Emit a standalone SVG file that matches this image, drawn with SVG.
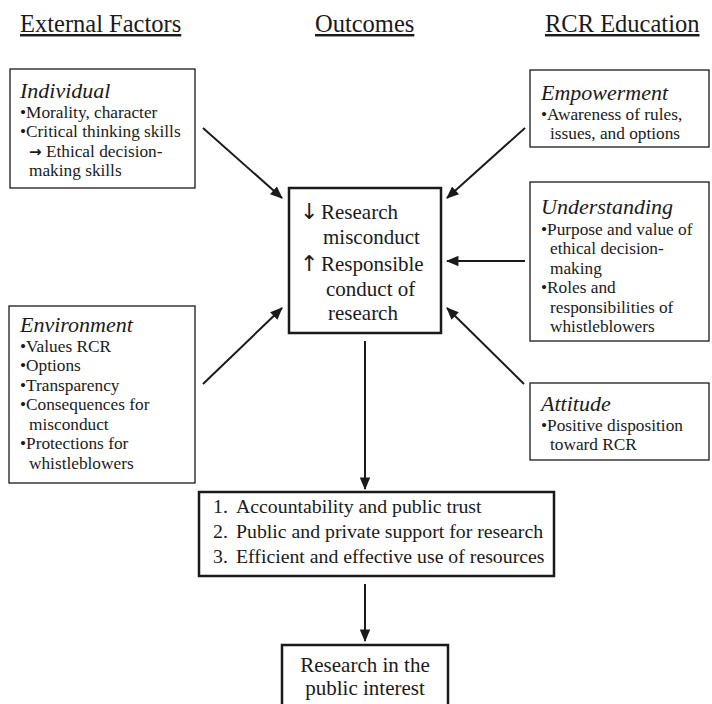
<svg xmlns="http://www.w3.org/2000/svg" width="712" height="704" viewBox="0 0 712 704">
<style>
text{font-family:"Liberation Serif","Times New Roman",serif;fill:#1a1a1a}
.hdr{font-size:24.5px;text-decoration:underline}
.h{font-size:22px;font-style:italic}
.b{font-size:17.3px}
.c{font-size:21px}
.o{font-size:19.8px}
.ar{font-family:"DejaVu Sans",sans-serif;font-size:22px}
.box{fill:#fff;stroke:#1a1a1a;stroke-width:1.3}
.tbox{fill:#fff;stroke:#1a1a1a;stroke-width:2.5}
.con line{stroke:#1a1a1a;stroke-width:2;marker-end:url(#ah)}
</style>
<defs>
<marker id="ah" viewBox="0 0 12 10" refX="11" refY="5" markerWidth="6.5" markerHeight="5.2" orient="auto" markerUnits="strokeWidth">
<path d="M0,0 L12,5 L0,10 z" fill="#1a1a1a"/>
</marker>
</defs>
<rect width="712" height="704" fill="#fff"/>
<g id="headers">
<text class="hdr" x="20" y="32">External Factors</text>
<text class="hdr" x="315" y="32">Outcomes</text>
<text class="hdr" x="545" y="32">RCR Education</text>
</g>
<g id="individual">
<rect class="box" x="10" y="69" width="185" height="119"/>
<text class="h" x="20" y="98">Individual</text>
<text class="b" x="20" y="118">•Morality, character</text>
<text class="b" x="20" y="137">•Critical thinking skills</text>
<text class="b" x="29" y="157"><tspan font-family="DejaVu Sans, sans-serif" font-size="15" font-weight="bold">→</tspan> Ethical decision-</text>
<text class="b" x="29" y="176">making skills</text>
</g>
<g id="environment">
<rect class="box" x="9" y="306" width="186" height="177"/>
<text class="h" x="20" y="332">Environment</text>
<text class="b" x="20" y="352">•Values RCR</text>
<text class="b" x="20" y="371">•Options</text>
<text class="b" x="20" y="391">•Transparency</text>
<text class="b" x="20" y="410">•Consequences for</text>
<text class="b" x="29" y="430">misconduct</text>
<text class="b" x="20" y="449">•Protections for</text>
<text class="b" x="29" y="469">whistleblowers</text>
</g>
<g id="empowerment">
<rect class="box" x="530" y="70" width="179" height="77"/>
<text class="h" x="541" y="100">Empowerment</text>
<text class="b" x="541" y="120">•Awareness of rules,</text>
<text class="b" x="550" y="139">issues, and options</text>
</g>
<g id="understanding">
<rect class="box" x="530" y="182" width="179" height="159"/>
<text class="h" x="541" y="214">Understanding</text>
<text class="b" x="541" y="235">•Purpose and value of</text>
<text class="b" x="550" y="254">ethical decision-</text>
<text class="b" x="550" y="274">making</text>
<text class="b" x="541" y="293">•Roles and</text>
<text class="b" x="550" y="313">responsibilities of</text>
<text class="b" x="550" y="332">whistleblowers</text>
</g>
<g id="attitude">
<rect class="box" x="530" y="383" width="179" height="77"/>
<text class="h" x="541" y="411">Attitude</text>
<text class="b" x="541" y="431">•Positive disposition</text>
<text class="b" x="550" y="450">toward RCR</text>
</g>
<g id="center">
<rect class="tbox" x="289" y="188" width="152" height="145"/>
<text class="ar" x="300" y="219">↓</text>
<text class="c" x="321" y="219">Research</text>
<text class="c" x="323" y="244">misconduct</text>
<text class="ar" x="300" y="271">↑</text>
<text class="c" x="321" y="271">Responsible</text>
<text class="c" x="326" y="296">conduct of</text>
<text class="c" x="328" y="320">research</text>
</g>
<g id="outcomes">
<rect class="tbox" x="199" y="492" width="355" height="84"/>
<text class="o" x="213" y="513">1.</text>
<text class="o" x="236" y="513">Accountability and public trust</text>
<text class="o" x="213" y="538">2.</text>
<text class="o" x="236" y="538">Public and private support for research</text>
<text class="o" x="213" y="563">3.</text>
<text class="o" x="236" y="563">Efficient and effective use of resources</text>
</g>
<g id="public-interest">
<rect class="tbox" x="282" y="645" width="166" height="62"/>
<text class="c" x="365" y="672" text-anchor="middle">Research in the</text>
<text class="c" x="365" y="695" text-anchor="middle">public interest</text>
</g>
<g class="con" id="connectors">
<line x1="203" y1="128" x2="282" y2="198"/>
<line x1="525" y1="128" x2="447" y2="198"/>
<line x1="525" y1="261" x2="447" y2="261"/>
<line x1="524" y1="384" x2="447" y2="308"/>
<line x1="203" y1="384" x2="282" y2="308"/>
<line x1="365" y1="341" x2="365" y2="489"/>
<line x1="365" y1="584" x2="365" y2="641"/>
</g>
</svg>
